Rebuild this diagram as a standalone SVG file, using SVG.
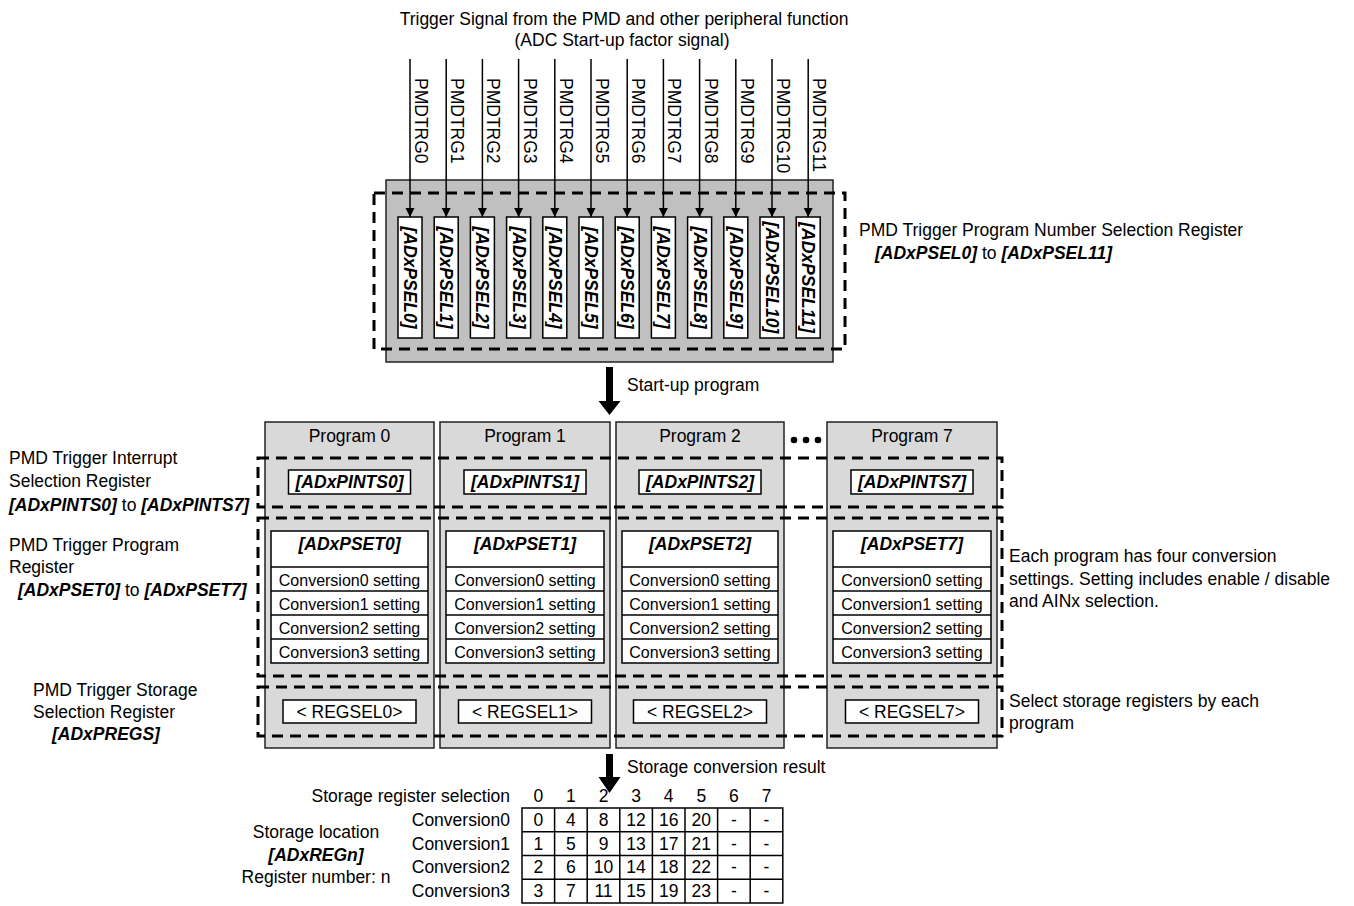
<svg xmlns="http://www.w3.org/2000/svg" width="1354" height="906" viewBox="0 0 1354 906">
<defs>
<marker id="ah" viewBox="0 0 10 10" refX="10" refY="5" markerWidth="9" markerHeight="10" markerUnits="userSpaceOnUse" orient="auto"><path d="M0,0 L10,5 L0,10 z" fill="#000"/></marker>
</defs>
<style>
text{font-family:"Liberation Sans",Arial,Helvetica,sans-serif;font-size:17.5px;fill:#000}
.bi{font-weight:bold;font-style:italic}
.s16{font-size:16px}
.mid{text-anchor:middle}
.end{text-anchor:end}
.dash{fill:none;stroke:#000;stroke-width:3;stroke-dasharray:11 7}
.wbox{fill:#fff;stroke:#000;stroke-width:1.5}
.col{fill:#d9d9d9;stroke:#222;stroke-width:1.5}
.grey{fill:#c0c0c0;stroke:#222;stroke-width:1.5}
.sig{stroke:#000;stroke-width:1.5;fill:none}
.cell{fill:#fff;stroke:#000;stroke-width:1.5}
.tl{stroke:#000;stroke-width:1.5}
</style>
<rect width="1354" height="906" fill="#fff"/>

<g id="title">
<text class="mid" x="624" y="25">Trigger Signal from the PMD and other peripheral function</text>
<text class="mid" x="622" y="46">(ADC Start-up factor signal)</text>
</g>

<g id="psel-block">
<rect class="grey" x="386" y="180" width="447" height="182"/>
<rect class="wbox" x="398" y="217" width="24" height="121"/>
<rect class="wbox" x="434.2" y="217" width="24" height="121"/>
<rect class="wbox" x="470.4" y="217" width="24" height="121"/>
<rect class="wbox" x="506.6" y="217" width="24" height="121"/>
<rect class="wbox" x="542.8" y="217" width="24" height="121"/>
<rect class="wbox" x="579" y="217" width="24" height="121"/>
<rect class="wbox" x="615.2" y="217" width="24" height="121"/>
<rect class="wbox" x="651.4" y="217" width="24" height="121"/>
<rect class="wbox" x="687.6" y="217" width="24" height="121"/>
<rect class="wbox" x="723.8" y="217" width="24" height="121"/>
<rect class="wbox" x="760" y="217" width="24" height="121"/>
<rect class="wbox" x="796.2" y="217" width="24" height="121"/>
<text class="bi mid" transform="translate(404,277.5) rotate(90)">[ADxPSEL0]</text>
<text class="bi mid" transform="translate(440.2,277.5) rotate(90)">[ADxPSEL1]</text>
<text class="bi mid" transform="translate(476.4,277.5) rotate(90)">[ADxPSEL2]</text>
<text class="bi mid" transform="translate(512.6,277.5) rotate(90)">[ADxPSEL3]</text>
<text class="bi mid" transform="translate(548.8,277.5) rotate(90)">[ADxPSEL4]</text>
<text class="bi mid" transform="translate(585,277.5) rotate(90)">[ADxPSEL5]</text>
<text class="bi mid" transform="translate(621.2,277.5) rotate(90)">[ADxPSEL6]</text>
<text class="bi mid" transform="translate(657.4,277.5) rotate(90)">[ADxPSEL7]</text>
<text class="bi mid" transform="translate(693.6,277.5) rotate(90)">[ADxPSEL8]</text>
<text class="bi mid" transform="translate(729.8,277.5) rotate(90)">[ADxPSEL9]</text>
<text class="bi mid" transform="translate(766,277.5) rotate(90)">[ADxPSEL10]</text>
<text class="bi mid" transform="translate(802.2,277.5) rotate(90)">[ADxPSEL11]</text>
<rect class="dash" x="374" y="193" width="471" height="156"/>
</g>

<g id="psel-label">
<text x="859" y="236">PMD Trigger Program Number Selection Register</text>
<text x="875" y="259"><tspan class="bi">[ADxPSEL0]</tspan> to <tspan class="bi">[ADxPSEL11]</tspan></text>
</g>

<g id="trigger-labels">
<text transform="translate(415,78) rotate(90)">PMDTRG0</text>
<text transform="translate(451.2,78) rotate(90)">PMDTRG1</text>
<text transform="translate(487.4,78) rotate(90)">PMDTRG2</text>
<text transform="translate(523.6,78) rotate(90)">PMDTRG3</text>
<text transform="translate(559.8,78) rotate(90)">PMDTRG4</text>
<text transform="translate(596,78) rotate(90)">PMDTRG5</text>
<text transform="translate(632.2,78) rotate(90)">PMDTRG6</text>
<text transform="translate(668.4,78) rotate(90)">PMDTRG7</text>
<text transform="translate(704.6,78) rotate(90)">PMDTRG8</text>
<text transform="translate(740.8,78) rotate(90)">PMDTRG9</text>
<text transform="translate(777,78) rotate(90)">PMDTRG10</text>
<text transform="translate(813.2,78) rotate(90)">PMDTRG11</text>
</g>

<g id="program0">
<rect class="col" x="265" y="422" width="169" height="326"/>
<text class="mid" x="349.5" y="442">Program 0</text>
<rect class="wbox" x="288.5" y="470" width="122" height="24"/>
<text class="bi mid" x="349.5" y="488">[ADxPINTS0]</text>
<rect class="wbox" x="271" y="531" width="157" height="132"/>
<line class="tl" x1="271" y1="567" x2="428" y2="567"/>
<line class="tl" x1="271" y1="591" x2="428" y2="591"/>
<line class="tl" x1="271" y1="615" x2="428" y2="615"/>
<line class="tl" x1="271" y1="639" x2="428" y2="639"/>
<text class="bi mid" x="349.5" y="550">[ADxPSET0]</text>
<text class="s16 mid" x="349.5" y="586">Conversion0 setting</text>
<text class="s16 mid" x="349.5" y="610">Conversion1 setting</text>
<text class="s16 mid" x="349.5" y="634">Conversion2 setting</text>
<text class="s16 mid" x="349.5" y="658">Conversion3 setting</text>
<rect class="wbox" x="283" y="700" width="133" height="23"/>
<text class="mid" x="349.5" y="718">&lt; REGSEL0&gt;</text>
</g>

<g id="program1">
<rect class="col" x="440" y="422" width="170" height="326"/>
<text class="mid" x="525" y="442">Program 1</text>
<rect class="wbox" x="464" y="470" width="122" height="24"/>
<text class="bi mid" x="525" y="488">[ADxPINTS1]</text>
<rect class="wbox" x="446" y="531" width="158" height="132"/>
<line class="tl" x1="446" y1="567" x2="604" y2="567"/>
<line class="tl" x1="446" y1="591" x2="604" y2="591"/>
<line class="tl" x1="446" y1="615" x2="604" y2="615"/>
<line class="tl" x1="446" y1="639" x2="604" y2="639"/>
<text class="bi mid" x="525" y="550">[ADxPSET1]</text>
<text class="s16 mid" x="525" y="586">Conversion0 setting</text>
<text class="s16 mid" x="525" y="610">Conversion1 setting</text>
<text class="s16 mid" x="525" y="634">Conversion2 setting</text>
<text class="s16 mid" x="525" y="658">Conversion3 setting</text>
<rect class="wbox" x="458.5" y="700" width="133" height="23"/>
<text class="mid" x="525" y="718">&lt; REGSEL1&gt;</text>
</g>

<g id="program2">
<rect class="col" x="616" y="422" width="168" height="326"/>
<text class="mid" x="700" y="442">Program 2</text>
<rect class="wbox" x="639" y="470" width="122" height="24"/>
<text class="bi mid" x="700" y="488">[ADxPINTS2]</text>
<rect class="wbox" x="622" y="531" width="156" height="132"/>
<line class="tl" x1="622" y1="567" x2="778" y2="567"/>
<line class="tl" x1="622" y1="591" x2="778" y2="591"/>
<line class="tl" x1="622" y1="615" x2="778" y2="615"/>
<line class="tl" x1="622" y1="639" x2="778" y2="639"/>
<text class="bi mid" x="700" y="550">[ADxPSET2]</text>
<text class="s16 mid" x="700" y="586">Conversion0 setting</text>
<text class="s16 mid" x="700" y="610">Conversion1 setting</text>
<text class="s16 mid" x="700" y="634">Conversion2 setting</text>
<text class="s16 mid" x="700" y="658">Conversion3 setting</text>
<rect class="wbox" x="633.5" y="700" width="133" height="23"/>
<text class="mid" x="700" y="718">&lt; REGSEL2&gt;</text>
</g>

<g id="ellipsis">
<circle cx="794" cy="440" r="3.3"/>
<circle cx="806" cy="440" r="3.3"/>
<circle cx="818" cy="440" r="3.3"/>
</g>

<g id="program7">
<rect class="col" x="827" y="422" width="170" height="326"/>
<text class="mid" x="912" y="442">Program 7</text>
<rect class="wbox" x="851" y="470" width="122" height="24"/>
<text class="bi mid" x="912" y="488">[ADxPINTS7]</text>
<rect class="wbox" x="833" y="531" width="158" height="132"/>
<line class="tl" x1="833" y1="567" x2="991" y2="567"/>
<line class="tl" x1="833" y1="591" x2="991" y2="591"/>
<line class="tl" x1="833" y1="615" x2="991" y2="615"/>
<line class="tl" x1="833" y1="639" x2="991" y2="639"/>
<text class="bi mid" x="912" y="550">[ADxPSET7]</text>
<text class="s16 mid" x="912" y="586">Conversion0 setting</text>
<text class="s16 mid" x="912" y="610">Conversion1 setting</text>
<text class="s16 mid" x="912" y="634">Conversion2 setting</text>
<text class="s16 mid" x="912" y="658">Conversion3 setting</text>
<rect class="wbox" x="845.5" y="700" width="133" height="23"/>
<text class="mid" x="912" y="718">&lt; REGSEL7&gt;</text>
</g>

<g id="register-groups">
<rect class="dash" x="258" y="458" width="744" height="49"/>
<rect class="dash" x="258" y="518" width="744" height="158"/>
<rect class="dash" x="258" y="687" width="744" height="49"/>
</g>

<g id="left-labels">
<text x="9" y="464">PMD Trigger Interrupt</text>
<text x="9" y="487">Selection Register</text>
<text x="9" y="511"><tspan class="bi">[ADxPINTS0]</tspan> to <tspan class="bi">[ADxPINTS7]</tspan></text>
<text x="9" y="551">PMD Trigger Program</text>
<text x="9" y="573">Register</text>
<text x="18" y="596"><tspan class="bi">[ADxPSET0]</tspan> to <tspan class="bi">[ADxPSET7]</tspan></text>
<text x="33" y="696">PMD Trigger Storage</text>
<text x="33" y="718">Selection Register</text>
<text class="bi" x="52" y="740">[ADxPREGS]</text>
</g>

<g id="right-labels">
<text x="1009" y="562">Each program has four conversion</text>
<text x="1009" y="585">settings. Setting includes enable / disable</text>
<text x="1009" y="607">and AINx selection.</text>
<text x="1009" y="707">Select storage registers by each</text>
<text x="1009" y="729">program</text>
</g>

<g id="connectors">
<line class="sig" x1="410" y1="59" x2="410" y2="217" marker-end="url(#ah)"/>
<line class="sig" x1="446.2" y1="59" x2="446.2" y2="217" marker-end="url(#ah)"/>
<line class="sig" x1="482.4" y1="59" x2="482.4" y2="217" marker-end="url(#ah)"/>
<line class="sig" x1="518.6" y1="59" x2="518.6" y2="217" marker-end="url(#ah)"/>
<line class="sig" x1="554.8" y1="59" x2="554.8" y2="217" marker-end="url(#ah)"/>
<line class="sig" x1="591" y1="59" x2="591" y2="217" marker-end="url(#ah)"/>
<line class="sig" x1="627.2" y1="59" x2="627.2" y2="217" marker-end="url(#ah)"/>
<line class="sig" x1="663.4" y1="59" x2="663.4" y2="217" marker-end="url(#ah)"/>
<line class="sig" x1="699.6" y1="59" x2="699.6" y2="217" marker-end="url(#ah)"/>
<line class="sig" x1="735.8" y1="59" x2="735.8" y2="217" marker-end="url(#ah)"/>
<line class="sig" x1="772" y1="59" x2="772" y2="217" marker-end="url(#ah)"/>
<line class="sig" x1="808.2" y1="59" x2="808.2" y2="217" marker-end="url(#ah)"/>
<path d="M606,367 H613 V401 H620.5 L609.5,415 L598.5,401 H606 Z" fill="#000"/>
<path d="M606,754 H613 V777 H620.5 L609.5,793 L598.5,777 H606 Z" fill="#000"/>
</g>

<g id="arrow-labels">
<text x="627" y="391">Start-up program</text>
<text x="627" y="773">Storage conversion result</text>
</g>

<g id="storage-table">
<text class="end" x="510" y="802">Storage register selection</text>
<text class="mid" x="538.3" y="802">0</text>
<text class="mid" x="570.9" y="802">1</text>
<text class="mid" x="603.5" y="802">2</text>
<text class="mid" x="636.1" y="802">3</text>
<text class="mid" x="668.7" y="802">4</text>
<text class="mid" x="701.3" y="802">5</text>
<text class="mid" x="733.9" y="802">6</text>
<text class="mid" x="766.5" y="802">7</text>
<rect class="cell" x="522" y="808" width="260.8" height="95"/>
<line class="tl" x1="522" y1="831.75" x2="782.8" y2="831.75"/>
<line class="tl" x1="522" y1="855.5" x2="782.8" y2="855.5"/>
<line class="tl" x1="522" y1="879.25" x2="782.8" y2="879.25"/>
<line class="tl" x1="554.6" y1="808" x2="554.6" y2="903"/>
<line class="tl" x1="587.2" y1="808" x2="587.2" y2="903"/>
<line class="tl" x1="619.8" y1="808" x2="619.8" y2="903"/>
<line class="tl" x1="652.4" y1="808" x2="652.4" y2="903"/>
<line class="tl" x1="685" y1="808" x2="685" y2="903"/>
<line class="tl" x1="717.6" y1="808" x2="717.6" y2="903"/>
<line class="tl" x1="750.2" y1="808" x2="750.2" y2="903"/>
<text class="end" x="510" y="826">Conversion0</text>
<text class="end" x="510" y="850">Conversion1</text>
<text class="end" x="510" y="873">Conversion2</text>
<text class="end" x="510" y="897">Conversion3</text>
<g class="mid">
<text class="mid" x="538.3" y="826">0</text><text class="mid" x="570.9" y="826">4</text><text class="mid" x="603.5" y="826">8</text><text class="mid" x="636.1" y="826">12</text><text class="mid" x="668.7" y="826">16</text><text class="mid" x="701.3" y="826">20</text><text class="mid" x="733.9" y="826">-</text><text class="mid" x="766.5" y="826">-</text>
<text class="mid" x="538.3" y="850">1</text><text class="mid" x="570.9" y="850">5</text><text class="mid" x="603.5" y="850">9</text><text class="mid" x="636.1" y="850">13</text><text class="mid" x="668.7" y="850">17</text><text class="mid" x="701.3" y="850">21</text><text class="mid" x="733.9" y="850">-</text><text class="mid" x="766.5" y="850">-</text>
<text class="mid" x="538.3" y="873">2</text><text class="mid" x="570.9" y="873">6</text><text class="mid" x="603.5" y="873">10</text><text class="mid" x="636.1" y="873">14</text><text class="mid" x="668.7" y="873">18</text><text class="mid" x="701.3" y="873">22</text><text class="mid" x="733.9" y="873">-</text><text class="mid" x="766.5" y="873">-</text>
<text class="mid" x="538.3" y="897">3</text><text class="mid" x="570.9" y="897">7</text><text class="mid" x="603.5" y="897">11</text><text class="mid" x="636.1" y="897">15</text><text class="mid" x="668.7" y="897">19</text><text class="mid" x="701.3" y="897">23</text><text class="mid" x="733.9" y="897">-</text><text class="mid" x="766.5" y="897">-</text>
</g>
<text class="mid" x="316" y="838">Storage location</text>
<text class="bi mid" x="316" y="861">[ADxREGn]</text>
<text class="mid" x="316" y="883">Register number: n</text>
</g>
</svg>
